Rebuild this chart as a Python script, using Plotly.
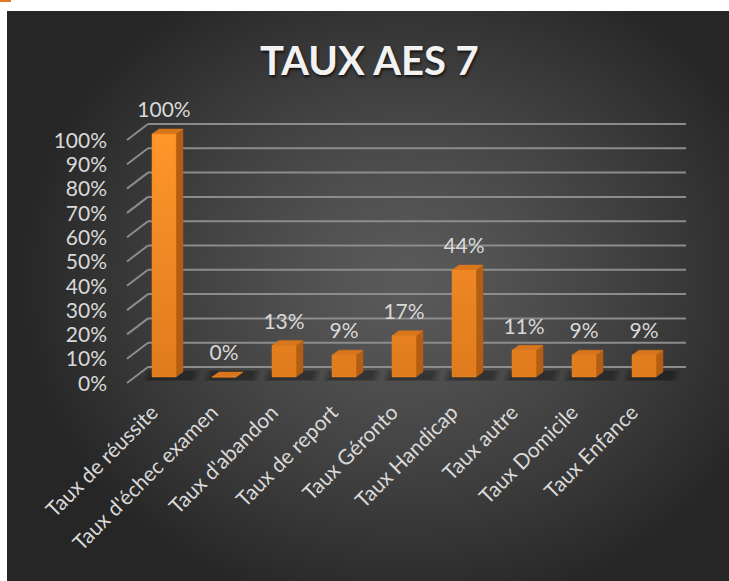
import numpy as np
import plotly.graph_objects as go

# ---------------- data ----------------
categories = ["Taux de réussite", "Taux d'échec examen", "Taux d'abandon", "Taux de report",
              "Taux Géronto", "Taux Handicap", "Taux autre", "Taux Domicile", "Taux Enfance"]
values = [1.00, 0.00, 0.13, 0.09, 0.17, 0.44, 0.11, 0.09, 0.09]
value_labels = ["100%", "0%", "13%", "9%", "17%", "44%", "11%", "9%", "9%"]
y_ticks = [0.0, 0.1, 0.2, 0.3, 0.4, 0.5, 0.6, 0.7, 0.8, 0.9, 1.0]
y_tick_labels = ["0%", "10%", "20%", "30%", "40%", "50%", "60%", "70%", "80%", "90%", "100%"]
title_text = "TAUX AES 7"

# ---------------- geometry (pixel based) ----------------
W, H = 729, 581
ML, MT = 7, 11
X0PX, XSTEP = 164.0, 60.0      # pixel of first category, pixels per category
Y0PX, YSCALE = 377.0, 243.0    # pixel of 0 %, pixels per 100 %

def px_x(p):
    return (p - X0PX) / XSTEP

def px_dy(p):
    return p / YSCALE

x_range = [px_x(ML), px_x(W)]
y_range = [(Y0PX - H) / YSCALE, (Y0PX - MT) / YSCALE]

HW = 12.0 / XSTEP              # half bar width
DX, DY = 7.0 / XSTEP, 5.0 / YSCALE   # bar depth offset

FONT = "Lato"
TXT = "#d9d9d9"

fig = go.Figure()

# ---------------- background radial gradient ----------------
gx = np.linspace(ML, W, 62)
gy = np.linspace(H, MT, 50)
X, Y = np.meshgrid(gx, gy)
r = np.sqrt(((X - 405) / 390.0) ** 2 + ((Y - 280) / 340.0) ** 2)
z = 1 - np.clip(r, 0, 1) ** 1.25
fig.add_trace(go.Heatmap(
    x=px_x(gx), y=(Y0PX - gy) / YSCALE, z=z, zsmooth="best",
    colorscale=[[0, "#262626"], [1, "#5a5a5a"]], showscale=False,
    hoverinfo="skip", zmin=0, zmax=1))

# ---------------- gridlines (3D wall) ----------------
back_x0, back_x1 = px_x(148), px_x(686)
front_x = px_x(127)
back_off, front_off = px_dy(10), -px_dy(6)
hx, hy, dxl, dyl = [], [], [], []
for v in y_ticks:
    hx += [back_x0, back_x1, None]
    hy += [v + back_off, v + back_off, None]
    dxl += [front_x, back_x0, None]
    dyl += [v + front_off, v + back_off, None]
fig.add_trace(go.Scatter(x=hx + dxl, y=hy + dyl, mode="lines",
                         line=dict(color="#8c8c8c", width=2), hoverinfo="skip"))

# ---------------- soft shadows (layered) ----------------
for grow, alpha in [(0.10, 0.10), (0.05, 0.12), (0.0, 0.14)]:
    sx, sy = [], []
    for i, v in enumerate(values):
        sx += [i - HW - 0.05 - grow, i + HW + DX + 0.15 + grow,
               i + HW + DX + 0.2 + grow, i - HW - grow, None]
        sy += [-px_dy(3 + 10 * grow), -px_dy(3 + 10 * grow),
               px_dy(6 + 10 * grow), px_dy(6 + 10 * grow), None]
    fig.add_trace(go.Scatter(x=sx, y=sy, mode="lines", fill="toself",
                             fillcolor=f"rgba(0,0,0,{alpha})", line=dict(width=0),
                             hoverinfo="skip"))

# ---------------- bars: side faces ----------------
fx, fy = [], []
for i, v in enumerate(values):
    fx += [i + HW, i + HW + DX, i + HW + DX, i + HW, i + HW, None]
    fy += [0, DY, v + DY, v, 0, None]
fig.add_trace(go.Scatter(x=fx, y=fy, mode="lines", fill="toself",
                         fillcolor="#b35e12", line=dict(color="#b35e12", width=0.5),
                         hoverinfo="skip"))

# ---------------- bars: top faces ----------------
tx, ty = [], []
for i, v in enumerate(values):
    tx += [i - HW, i + HW, i + HW + DX, i - HW + DX, i - HW, None]
    ty += [v, v, v + DY, v + DY, v, None]
fig.add_trace(go.Scatter(x=tx, y=ty, mode="lines", fill="toself",
                         fillcolor="#d9761b", line=dict(color="#d9761b", width=0.5),
                         hoverinfo="skip"))

# ---------------- bars: front faces ----------------
ox, oy = [], []
for i, v in enumerate(values):
    ox += [i - HW, i + HW, i + HW, i - HW, i - HW, None]
    oy += [0, 0, v, v, 0, None]
fig.add_trace(go.Scatter(x=ox, y=oy, mode="lines", fill="toself",
                         fillcolor="#f48a22",
                         fillgradient=dict(type="vertical", start=0, stop=1,
                                           colorscale=[[0, "#e07b1d"], [1, "#ff962b"]]),
                         line=dict(color="#ee8620", width=0.5),
                         hoverinfo="skip"))

# ---------------- value labels ----------------
fig.add_trace(go.Scatter(x=list(range(len(values))), y=[v + px_dy(22) for v in values],
                         mode="text", text=value_labels, textposition="middle center",
                         textfont=dict(family=FONT, size=21, color=TXT), hoverinfo="skip"))

# ---------------- y tick labels ----------------
fig.add_trace(go.Scatter(x=[px_x(107)] * len(y_ticks), y=[v - px_dy(8.5) for v in y_ticks],
                         mode="text", text=y_tick_labels, textposition="middle left",
                         textfont=dict(family=FONT, size=21, color=TXT), hoverinfo="skip"))

fig.update_layout(
    template="none",
    width=W, height=H,
    margin=dict(l=ML, r=0, t=MT, b=0, pad=0),
    paper_bgcolor="white", plot_bgcolor="#2a2a2a",
    showlegend=False,
    xaxis=dict(range=x_range, tickvals=list(range(len(categories))), ticktext=categories,
               tickangle=-45, anchor="free", position=(H - 395) / (H - MT),
               ticklabelshift=-12,
               showgrid=False, zeroline=False, showline=False, ticks="",
               automargin=False, fixedrange=True,
               tickfont=dict(family=FONT, size=21, color=TXT)),
    yaxis=dict(range=y_range, visible=False, automargin=False, fixedrange=True),
    annotations=[dict(text="<b>" + title_text + "</b>", xref="paper", yref="paper",
                      x=(369.5 - ML) / (W - ML), y=(H - 60) / (H - MT),
                      xanchor="center", yanchor="middle", showarrow=False,
                      font=dict(family=FONT, size=40, color="#f2f2f2",
                                shadow="1px 2px 3px rgba(0,0,0,0.7)"))],
    shapes=[dict(type="rect", xref="paper", yref="paper",
                 x0=-ML / (W - ML), x1=4 / (W - ML),
                 y0=1 + 9 / (H - MT), y1=1 + 11 / (H - MT),
                 fillcolor="#e0782a", line=dict(width=0), layer="above")],
)

fig.write_html("out.html", config={"displayModeBar": False},
               post_script="document.body.style.margin='0px';")
